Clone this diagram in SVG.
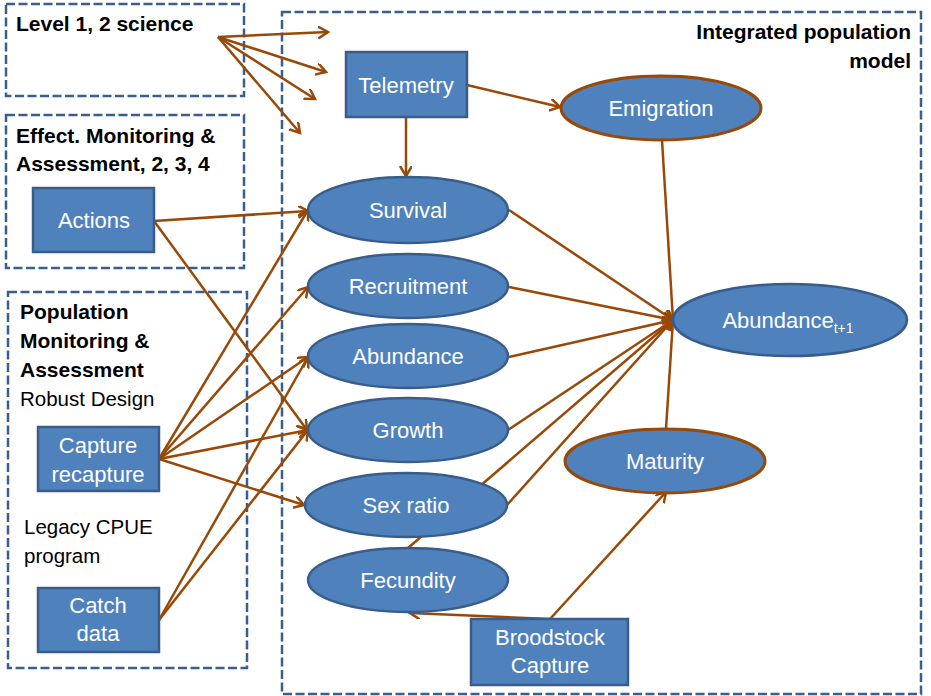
<svg xmlns="http://www.w3.org/2000/svg" width="931" height="696" viewBox="0 0 931 696">
<defs>
<style>
.frame{fill:none;stroke:#3A5F8F;stroke-width:2.5;stroke-dasharray:9 3.5}
.box{fill:#4F81BD;stroke:#385D8A;stroke-width:2.5}
.ell{fill:#4F81BD;stroke:#385D8A;stroke-width:2.5}
.ellb{fill:#4F81BD;stroke:#984807;stroke-width:3}
.wt{font-family:"Liberation Sans",Arial,sans-serif;font-size:22px;fill:#FFFFFF;text-anchor:middle}
.hd{font-family:"Liberation Sans",Arial,sans-serif;font-size:21px;font-weight:bold;fill:#000000}
.nt{font-family:"Liberation Sans",Arial,sans-serif;font-size:20.5px;fill:#000000}
.cn{fill:none;stroke:#984807;stroke-width:2.5;marker-end:url(#ah)}
</style>
<marker id="ah" markerUnits="userSpaceOnUse" markerWidth="14" markerHeight="14" refX="10" refY="6" orient="auto">
<path d="M0,0 L10,6 L0,12" fill="none" stroke="#984807" stroke-width="2.5"/>
</marker>
</defs>
<rect width="931" height="696" fill="#FFFFFF"/>

<g id="frames">
<rect id="level-frame" class="frame" x="6" y="4" width="238" height="92"/>
<rect id="effect-frame" class="frame" x="6" y="115" width="238" height="153"/>
<rect id="population-frame" class="frame" x="8" y="292" width="239" height="376"/>
<rect id="ipm-frame" class="frame" x="282" y="12" width="639" height="682"/>
<text class="hd" x="16" y="31" font-size="20">Level 1, 2 science</text>
<text class="hd" x="16" y="143">Effect. Monitoring &amp;</text>
<text class="hd" x="16" y="171">Assessment, 2, 3, 4</text>
<text class="hd" x="20" y="319">Population</text>
<text class="hd" x="20" y="348">Monitoring &amp;</text>
<text class="hd" x="20" y="377">Assessment</text>
<text class="nt" x="20" y="406">Robust Design</text>
<text class="nt" x="24" y="534">Legacy CPUE</text>
<text class="nt" x="24" y="563">program</text>
<text class="hd" x="911" y="39" text-anchor="end">Integrated population</text>
<text class="hd" x="911" y="68" text-anchor="end">model</text>
</g>

<g id="connectors">
<path class="cn" d="M218,37 L328,32"/>
<path class="cn" d="M218,37 L326,72"/>
<path class="cn" d="M218,37 L315,99"/>
<path class="cn" d="M218,37 L300,133"/>
<path class="cn" d="M467,85 L560,107"/>
<path class="cn" d="M406,117 L406,176"/>
<path class="cn" d="M154,221 L308,211"/>
<path class="cn" d="M154,221 L307,430"/>
<path class="cn" d="M159,459 L308,210"/>
<path class="cn" d="M159,459 L308,287"/>
<path class="cn" d="M159,459 L308,357"/>
<path class="cn" d="M159,459 L308,430"/>
<path class="cn" d="M159,459 L304,505"/>
<path class="cn" d="M159,620 L308,357"/>
<path class="cn" d="M159,620 L308,430"/>
<path class="cn" d="M509,210 L673,320"/>
<path class="cn" d="M509,287 L673,320"/>
<path class="cn" d="M509,357 L673,320"/>
<path class="cn" d="M508,430 L673,320"/>
<path class="cn" d="M507,505 L673,320"/>
<path class="cn" d="M408,548 L673,320"/>
<path class="cn" d="M662,140 L673,320"/>
<path class="cn" d="M666,429 L673,320"/>
<path class="cn" d="M550,619 L666,492"/>
<path class="cn" d="M550,619 L410,613"/>
</g>

<g id="telemetry"><rect class="box" x="346" y="52" width="121" height="65"/><text class="wt" x="406" y="93">Telemetry</text></g>
<g id="actions"><rect class="box" x="33" y="188" width="121" height="64"/><text class="wt" x="94" y="228">Actions</text></g>
<g id="capture-recapture"><rect class="box" x="38" y="427" width="121" height="64"/><text class="wt" x="98" y="453">Capture</text><text class="wt" x="98" y="482">recapture</text></g>
<g id="catch-data"><rect class="box" x="38" y="588" width="121" height="64"/><text class="wt" x="98" y="613">Catch</text><text class="wt" x="98" y="641">data</text></g>
<g id="broodstock"><rect class="box" x="471" y="619" width="157" height="66"/><text class="wt" x="550" y="645">Broodstock</text><text class="wt" x="550" y="673">Capture</text></g>

<g id="emigration"><ellipse class="ellb" cx="661" cy="108" rx="100" ry="32"/><text class="wt" x="661" y="116">Emigration</text></g>
<g id="survival"><ellipse class="ell" cx="408" cy="210" rx="100" ry="33"/><text class="wt" x="408" y="218">Survival</text></g>
<g id="recruitment"><ellipse class="ell" cx="408" cy="286" rx="100" ry="32"/><text class="wt" x="408" y="294">Recruitment</text></g>
<g id="abundance"><ellipse class="ell" cx="408" cy="356" rx="100" ry="32"/><text class="wt" x="408" y="364">Abundance</text></g>
<g id="growth"><ellipse class="ell" cx="408" cy="430" rx="100" ry="32"/><text class="wt" x="408" y="438">Growth</text></g>
<g id="sex-ratio"><ellipse class="ell" cx="406" cy="505" rx="101" ry="32"/><text class="wt" x="406" y="513">Sex ratio</text></g>
<g id="fecundity"><ellipse class="ell" cx="408" cy="580" rx="100" ry="32"/><text class="wt" x="408" y="588">Fecundity</text></g>
<g id="maturity"><ellipse class="ellb" cx="665" cy="461" rx="100" ry="32"/><text class="wt" x="665" y="469">Maturity</text></g>
<g id="abundance-t1"><ellipse class="ell" cx="790" cy="320" rx="117" ry="36"/><text class="wt" x="788" y="328">Abundance<tspan font-size="14" dy="5">t+1</tspan></text></g>
</svg>
